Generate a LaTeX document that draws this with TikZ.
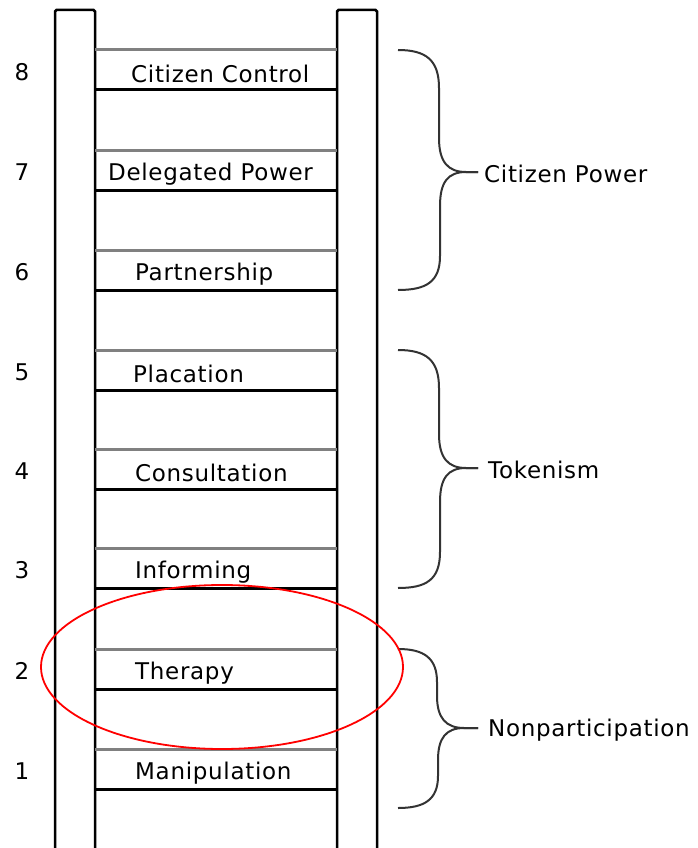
\documentclass[tikz,border=0pt]{standalone}
\usepackage{fontspec}
\setmainfont[LetterSpace=3]{DejaVu Sans}
\tikzstyle{every node}=[inner sep=0pt,font=\fontsize{23}{27}\selectfont]
\tikzstyle{rail}=[draw=black,line width=2.5pt,fill=white,rounded corners=1.5pt]
\tikzstyle{rungtop}=[draw=black!50,line width=3pt]
\tikzstyle{rungbot}=[draw=black,line width=3pt]
\tikzstyle{brace}=[draw=black!80,line width=2pt]

\begin{document}
\begin{tikzpicture}[x=1pt,y=-1pt]
  \useasboundingbox (0,0) rectangle (697,848);
  % rails
  \draw[rail] (55,10) rectangle (95,870);
  \draw[rail] (337,10) rectangle (377,870);
  % rungs, numbers and labels
  \foreach \n/\y/\txt/\xl in {8/50/Citizen Control/131, 7/150/Delegated Power/108,
      6/250/Partnership/135, 5/350/Placation/133, 4/449/Consultation/135,
      3/548/Informing/135, 2/649/Therapy/135, 1/749/Manipulation/135} {
    \draw[rungtop] (95,\y) -- (337,\y);
    \draw[rungbot] (95,\y+40) -- (337,\y+40);
    \node[anchor=west] (label\n) at (\xl,\y+24) {\txt};
    \node (num\n) at (22,\y+22) {\n};
  }
  % braces
  \draw[brace] (398,50) .. controls (426,50) and (439,60) .. (439,88)
    -- (439,138) .. controls (439,162) and (448,172) .. (466,172) -- (478,172);
  \draw[brace] (478,172) -- (466,172) .. controls (448,172) and (440,182) .. (440,206)
    -- (440,256) .. controls (440,282) and (426,290) .. (398,290);
  \draw[brace] (398,350) .. controls (426,350) and (439,360) .. (439,388)
    -- (439,434) .. controls (439,458) and (448,468) .. (466,468) -- (478,468);
  \draw[brace] (478,468) -- (466,468) .. controls (448,468) and (440,478) .. (440,502)
    -- (440,552) .. controls (440,580) and (426,588) .. (398,588);
  \draw[brace] (398,649) .. controls (424,649) and (437,658) .. (437,682)
    -- (437,696) .. controls (437,718) and (446,728) .. (464,728) -- (478,728);
  \draw[brace] (478,728) -- (464,728) .. controls (446,728) and (438,738) .. (438,760)
    -- (438,776) .. controls (438,800) and (424,808) .. (398,808);
  \node[anchor=west] (power) at (484,174) {Citizen Power};
  \node[anchor=west] (token) at (488,470) {Tokenism};
  \node[anchor=west] (nonpart) at (488,730) {Nonparticipation};
  % highlight
  \draw[red,line width=1.8pt] (222,667) ellipse [x radius=181,y radius=82];
\end{tikzpicture}
\end{document}
